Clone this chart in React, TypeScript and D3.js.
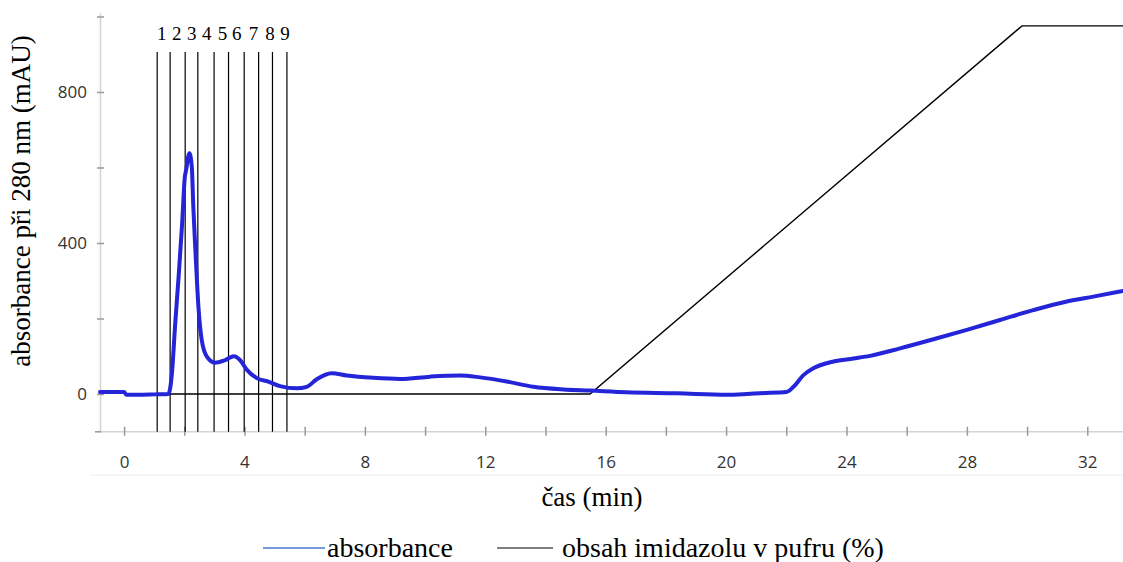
import React, { useEffect, useRef } from 'react';
import * as d3 from 'd3';

// absorbance trace (min, mAU)
const absTime = [
  -0.8, 0.0, 0.08, 0.5, 1.0, 1.47, 1.59, 1.7, 1.82, 1.93, 2.02, 2.06, 2.17, 2.25, 2.3, 2.38, 2.47, 2.58,
  2.75, 3.02, 3.36, 3.65, 3.85, 4.08, 4.41, 4.79, 5.18, 5.74, 6.07, 6.4, 6.9, 7.4, 8.28, 9.17, 10.17,
  11.16, 11.83, 12.71, 13.6, 14.6, 15.48, 16.7, 18.36, 20.02, 20.69, 21.13, 22.0, 22.24, 22.57, 22.9,
  23.57, 24.23, 24.78, 25.78, 26.89, 28.0, 29.1, 30.2, 31.32, 32.2, 33.2,
];
const absValue = [
  5, 5, -2, -2, -1, 0, 55, 188, 320, 453, 576, 593, 638, 602, 496, 364, 231, 143,
  99, 83, 90, 100, 90, 64, 42, 33, 21, 15, 19, 39, 55, 49, 43, 40, 46,
  49, 44, 33, 19, 12, 9, 4.5, 2, -2, 0, 2, 5, 19, 50, 68,
  86, 94, 101, 121, 145, 170, 196, 222, 245, 258, 273,
];

// imidazole gradient (min, %)
const gradTime = [1.1, 15.48, 29.83, 33.2];
const gradValue = [0, 0, 100, 100];

// fraction boundaries (min) and label positions
const fractionBounds = [1.1, 1.53, 2.03, 2.45, 2.99, 3.47, 3.99, 4.47, 4.93, 5.41];
const fractionLabels = ['1', '2', '3', '4', '5', '6', '7', '8', '9'];
const fractionLabelAt = [1.25, 1.75, 2.25, 2.75, 3.27, 3.74, 4.3, 4.85, 5.35];

const xTicks = [0, 2, 4, 6, 8, 10, 12, 14, 16, 18, 20, 22, 24, 26, 28, 30, 32];
const yTicks = [0, 200, 400, 600, 800, 1000];

const W = 1123;
const H = 562;

export default function App() {
  const svgRef = useRef<SVGSVGElement>(null);

  useEffect(() => {
    const svg = d3.select(svgRef.current);
    svg.selectAll('*').remove();

    const x = d3.scaleLinear().domain([-0.8, 33.2]).range([100, 1123.4]);
    const y = d3.scaleLinear().domain([-100, 1010]).range([431.75, 12.7]);
    // gradient % shares the plot, 100 % sits just under the top
    const yPct = d3.scaleLinear().domain([0, 100]).range([y(0), y(975)]);

    const sans = '"Open Sans", "Noto Sans", sans-serif';
    const serif = '"Times New Roman", "Liberation Serif", serif';

    // faint line under the tick labels
    svg.append('line')
      .attr('x1', 90).attr('x2', W).attr('y1', 475).attr('y2', 475)
      .attr('stroke', '#eeeeee').attr('stroke-width', 1);

    // y axis
    const yAxis = d3.axisLeft(y).tickValues(yTicks).tickSize(0)
      .tickFormat((d) => (+d % 400 === 0 ? String(d) : ''));
    const gy = svg.append('g').attr('transform', `translate(${x(-0.8)},0)`).call(yAxis);
    gy.select('.domain').attr('stroke', '#d4d4d4').attr('stroke-width', 1.5);
    gy.selectAll('.tick text')
      .attr('x', -13)
      .style('font-family', sans)
      .style('font-size', '17px')
      .style('fill', '#333');
    gy.selectAll('.tick').append('line')
      .attr('x1', -3).attr('x2', 4)
      .attr('stroke', '#9a9a9a').attr('stroke-width', 1.5);

    // x axis
    const xAxis = d3.axisBottom(x).tickValues(xTicks).tickSize(0)
      .tickFormat((d) => (+d % 4 === 0 ? String(d) : ''));
    const gx = svg.append('g').attr('transform', `translate(0,${y(-100)})`).call(xAxis);
    gx.select('.domain').attr('stroke', '#d4d4d4').attr('stroke-width', 1.5)
      .attr('d', `M${x(-0.8) - 5},0H${W}`);
    gx.selectAll('.tick text')
      .attr('y', 24)
      .style('font-family', sans)
      .style('font-size', '17px')
      .style('fill', '#333');
    gx.selectAll('.tick').append('line')
      .attr('y1', -5).attr('y2', 4)
      .attr('stroke', '#9a9a9a').attr('stroke-width', 1.5);
    gx.append('line')
      .attr('x1', x(-0.8) - 5).attr('x2', x(-0.8) + 1)
      .attr('stroke', '#9a9a9a').attr('stroke-width', 1.5);

    // fraction lines
    svg.append('g').selectAll('line').data(fractionBounds).join('line')
      .attr('x1', (d) => x(d)).attr('x2', (d) => x(d))
      .attr('y1', 52).attr('y2', y(-100))
      .attr('stroke', '#000').attr('stroke-width', 1.2);
    svg.append('g').selectAll('text').data(fractionLabels).join('text')
      .attr('x', (_, i) => x(fractionLabelAt[i]))
      .attr('y', 40)
      .attr('text-anchor', 'middle')
      .style('font-family', serif)
      .style('font-size', '19px')
      .text((d) => d);

    // gradient
    const grad = gradTime.map((t, i) => [t, gradValue[i]] as [number, number]);
    svg.append('path')
      .datum(grad)
      .attr('fill', 'none').attr('stroke', '#000').attr('stroke-width', 1.4)
      .attr('d', d3.line<[number, number]>().x((d) => x(d[0])).y((d) => yPct(d[1])));

    // absorbance
    const abs = absTime.map((t, i) => [t, absValue[i]] as [number, number]);
    svg.append('path')
      .datum(abs)
      .attr('fill', 'none').attr('stroke', '#2424d8').attr('stroke-width', 4)
      .attr('stroke-linejoin', 'round').attr('stroke-linecap', 'round')
      .attr('d', d3.line<[number, number]>().curve(d3.curveMonotoneX).x((d) => x(d[0])).y((d) => y(d[1])));

    // axis titles
    svg.append('text')
      .attr('transform', `translate(30,201) rotate(-90)`)
      .attr('text-anchor', 'middle')
      .style('font-family', serif).style('font-size', '27px')
      .text('absorbance při 280 nm (mAU)');
    svg.append('text')
      .attr('x', 592).attr('y', 506)
      .attr('text-anchor', 'middle')
      .style('font-family', serif).style('font-size', '27px')
      .text('čas (min)');

    // legend
    const lg = svg.append('g').attr('transform', 'translate(0,548)');
    lg.append('line').attr('x1', 263).attr('x2', 325).attr('stroke', '#4a78d4').attr('stroke-width', 1.5);
    lg.append('text').attr('x', 327).attr('y', 9)
      .style('font-family', serif).style('font-size', '28px').text('absorbance');
    lg.append('line').attr('x1', 497).attr('x2', 553).attr('stroke', '#000').attr('stroke-width', 1.2);
    lg.append('text').attr('x', 562).attr('y', 9)
      .style('font-family', serif).style('font-size', '28px').text('obsah imidazolu v pufru (%)');
  }, []);

  return (
    <svg
      ref={svgRef}
      width={W}
      height={H}
      style={{ position: 'absolute', left: 0, top: 0, background: '#fff' }}
    />
  );
}
